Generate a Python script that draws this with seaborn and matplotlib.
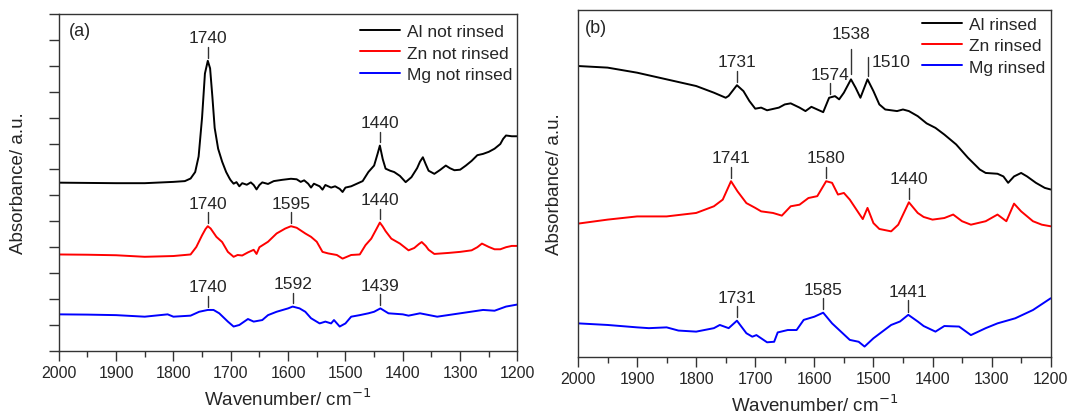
import numpy as np
import pandas as pd
import seaborn as sns
import matplotlib.pyplot as plt
from matplotlib.ticker import MultipleLocator, NullFormatter

# ---- panel (a): not rinsed ----
al_nr_wn = [2000, 1950, 1900, 1850, 1820, 1800, 1780, 1770, 1762, 1756, 1750, 1745, 1740, 1736, 1732,
            1728, 1722, 1715, 1708, 1702, 1700, 1695, 1690, 1685, 1680, 1672, 1665, 1660, 1655, 1650,
            1645, 1635, 1625, 1610, 1595, 1585, 1578, 1572, 1565, 1560, 1555, 1545, 1540, 1535, 1525,
            1518, 1510, 1505, 1500, 1490, 1480, 1470, 1460, 1450, 1444, 1440, 1435, 1430, 1422, 1415,
            1405, 1395, 1385, 1375, 1370, 1365, 1360, 1355, 1345, 1335, 1325, 1318, 1310, 1300, 1290,
            1280, 1270, 1260, 1250, 1240, 1230, 1225, 1220, 1210, 1200]
al_nr_ab = [6.49, 6.48, 6.47, 6.47, 6.50, 6.52, 6.55, 6.65, 6.90, 7.50, 9.00, 10.70, 11.19, 10.90, 9.80,
            8.60, 7.80, 7.30, 6.90, 6.65, 6.58, 6.45, 6.51, 6.35, 6.47, 6.41, 6.50, 6.40, 6.23, 6.40,
            6.50, 6.44, 6.55, 6.60, 6.64, 6.62, 6.52, 6.58, 6.45, 6.30, 6.45, 6.35, 6.22, 6.40, 6.30,
            6.35, 6.25, 6.13, 6.30, 6.35, 6.45, 6.55, 6.90, 7.15, 7.60, 7.92, 7.40, 7.03, 6.95, 6.90,
            6.75, 6.51, 6.70, 7.05, 7.30, 7.47, 7.20, 6.95, 6.83, 6.98, 7.15, 7.05, 6.97, 6.99, 7.15,
            7.33, 7.55, 7.60, 7.68, 7.80, 7.98, 8.18, 8.31, 8.28, 8.28]

zn_nr_wn = [2000, 1950, 1900, 1850, 1800, 1770, 1760, 1750, 1744, 1740, 1735, 1725, 1715, 1705, 1695,
            1688, 1680, 1670, 1660, 1655, 1650, 1635, 1620, 1605, 1595, 1585, 1570, 1560, 1550, 1540,
            1530, 1515, 1505, 1490, 1475, 1465, 1455, 1446, 1440, 1435, 1430, 1420, 1405, 1390, 1380,
            1372, 1367, 1360, 1355, 1345, 1320, 1300, 1280, 1270, 1262, 1250, 1240, 1230, 1220, 1210,
            1200]
zn_nr_ab = [3.72, 3.71, 3.69, 3.63, 3.66, 3.72, 4.01, 4.46, 4.70, 4.81, 4.72, 4.40, 4.20, 3.82, 3.63,
            3.70, 3.68, 3.80, 3.90, 3.74, 4.00, 4.21, 4.53, 4.72, 4.81, 4.75, 4.53, 4.40, 4.21, 3.82,
            3.76, 3.70, 3.56, 3.70, 3.72, 4.08, 4.33, 4.70, 4.95, 4.80, 4.62, 4.33, 4.14, 3.88, 3.97,
            4.12, 4.20, 4.05, 3.90, 3.74, 3.78, 3.82, 3.88, 4.00, 4.14, 4.01, 3.92, 3.92, 4.00, 4.05,
            4.05]

mg_nr_wn = [2000, 1950, 1900, 1850, 1810, 1800, 1770, 1755, 1740, 1730, 1720, 1705, 1695, 1685, 1670,
            1660, 1645, 1635, 1620, 1600, 1592, 1580, 1570, 1560, 1545, 1535, 1525, 1520, 1510, 1500,
            1490, 1475, 1460, 1450, 1439, 1425, 1400, 1390, 1370, 1340, 1300, 1260, 1240, 1220, 1200]
mg_nr_ab = [1.41, 1.40, 1.38, 1.32, 1.41, 1.32, 1.36, 1.51, 1.58, 1.58, 1.45, 1.13, 0.94, 1.00, 1.23,
            1.13, 1.19, 1.38, 1.51, 1.64, 1.71, 1.64, 1.51, 1.26, 1.06, 1.13, 1.06, 1.19, 0.94, 1.06,
            1.32, 1.38, 1.45, 1.51, 1.64, 1.45, 1.41, 1.36, 1.45, 1.32, 1.45, 1.58, 1.55, 1.71, 1.79]

# ---- panel (b): rinsed ----
al_r_wn = [2000, 1950, 1900, 1850, 1800, 1770, 1750, 1745, 1731, 1720, 1710, 1700, 1690, 1680, 1660,
           1650, 1640, 1625, 1615, 1605, 1595, 1585, 1575, 1565, 1558, 1550, 1538, 1530, 1522, 1510,
           1500, 1490, 1480, 1460, 1450, 1440, 1425, 1410, 1395, 1380, 1360, 1340, 1320, 1310, 1290,
           1280, 1272, 1262, 1250, 1240, 1225, 1210, 1200]
al_r_ab = [10.90, 10.84, 10.65, 10.40, 10.15, 9.90, 9.71, 9.78, 10.18, 9.96, 9.59, 9.30, 9.34, 9.24, 9.34,
           9.46, 9.50, 9.34, 9.21, 9.37, 9.27, 9.17, 9.71, 9.77, 9.65, 9.90, 10.40, 10.08, 9.71, 10.40,
           9.96, 9.46, 9.27, 9.21, 9.27, 9.21, 9.02, 8.75, 8.58, 8.33, 7.96, 7.46, 7.02, 6.89, 6.86,
           6.76, 6.52, 6.76, 6.89, 6.76, 6.52, 6.33, 6.27]

zn_r_wn = [2000, 1950, 1900, 1850, 1800, 1770, 1755, 1741, 1730, 1715, 1700, 1690, 1670, 1655, 1640,
           1625, 1610, 1595, 1580, 1570, 1560, 1550, 1540, 1525, 1518, 1510, 1500, 1490, 1470, 1458,
           1440, 1425, 1415, 1400, 1380, 1365, 1350, 1335, 1310, 1290, 1275, 1262, 1250, 1230, 1215,
           1200]
zn_r_ab = [4.99, 5.14, 5.26, 5.26, 5.39, 5.64, 5.89, 6.58, 6.20, 5.76, 5.58, 5.45, 5.39, 5.29, 5.64,
           5.70, 5.95, 6.02, 6.58, 6.52, 6.08, 6.14, 5.89, 5.39, 5.16, 5.58, 5.01, 4.79, 4.70, 4.95,
           5.79, 5.39, 5.24, 5.14, 5.20, 5.33, 5.08, 4.95, 5.08, 5.33, 5.08, 5.74, 5.45, 5.08, 4.95,
           4.89]

mg_r_wn = [2000, 1950, 1900, 1880, 1850, 1830, 1800, 1770, 1760, 1745, 1731, 1715, 1705, 1698, 1680,
           1668, 1662, 1645, 1630, 1618, 1600, 1585, 1570, 1555, 1540, 1525, 1515, 1500, 1485, 1470,
           1455, 1441, 1425, 1415, 1395, 1380, 1355, 1335, 1310, 1290, 1260, 1230, 1200]
mg_r_ab = [1.25, 1.19, 1.10, 1.07, 1.10, 0.98, 0.94, 1.07, 1.19, 1.07, 1.35, 0.88, 0.75, 0.81, 0.54,
           0.56, 0.91, 1.00, 1.00, 1.38, 1.50, 1.65, 1.25, 0.94, 0.63, 0.56, 0.38, 0.69, 0.94, 1.19,
           1.32, 1.57, 1.32, 1.15, 0.94, 1.15, 1.13, 0.81, 1.07, 1.25, 1.44, 1.75, 2.19]

labels_a = ["Al not rinsed", "Zn not rinsed", "Mg not rinsed"]
labels_b = ["Al rinsed", "Zn rinsed", "Mg rinsed"]
colors = ["black", "red", "blue"]

series_a = [(al_nr_wn, al_nr_ab), (zn_nr_wn, zn_nr_ab), (mg_nr_wn, mg_nr_ab)]
series_b = [(al_r_wn, al_r_ab), (zn_r_wn, zn_r_ab), (mg_r_wn, mg_r_ab)]

# peak labels: (series index, wavenumber)
peaks_a = [(0, 1740), (0, 1440), (1, 1740), (1, 1595), (1, 1440), (2, 1740), (2, 1592), (2, 1439)]
peaks_b = [(0, 1731), (0, 1574), (1, 1741), (1, 1580), (1, 1440), (2, 1731), (2, 1585), (2, 1441)]

PEAK_FS = 12.5


def long_df(series, labels):
    frames = []
    for (wn, ab), lab in zip(series, labels):
        frames.append(pd.DataFrame({"wn": wn, "ab": ab, "sample": lab}))
    return pd.concat(frames, ignore_index=True)


def peak_height(series, i, wn):
    x, y = series[i]
    return np.interp(wn, x[::-1], y[::-1])


def mark(ax, series, i, wn, length=0.42, gap=0.12):
    y0 = peak_height(series, i, wn) + gap
    ax.plot([wn, wn], [y0, y0 + length], color="#333333", lw=1.0)
    ax.text(wn, y0 + length + 0.06, str(wn), ha="center", va="bottom", fontsize=PEAK_FS)


sns.set_style("ticks")
plt.rcParams["font.family"] = ["Liberation Sans", "DejaVu Sans"]

fig = plt.figure(figsize=(10.67, 4.14), dpi=100)
ax1 = fig.add_axes([0.055, 0.150, 0.430, 0.814])
ax2 = fig.add_axes([0.5417, 0.136, 0.443, 0.8374])

for ax, series, labels, tag, tx, ly in [(ax1, series_a, labels_a, "(a)", 0.022, 0.985),
                                        (ax2, series_b, labels_b, "(b)", 0.015, 0.995)]:
    df = long_df(series, labels)
    sns.lineplot(data=df, x="wn", y="ab", hue="sample", palette=dict(zip(labels, colors)),
                 estimator=None, sort=False, lw=1.4, ax=ax)
    ax.set_xlim(2000, 1200)
    ax.set_ylim(0, 13)
    ax.xaxis.set_major_locator(MultipleLocator(100))
    ax.xaxis.set_minor_locator(MultipleLocator(50))
    ax.tick_params(axis="x", which="major", direction="out", length=7, width=1, labelsize=11.5,
                   color="#333333")
    ax.tick_params(axis="x", which="minor", direction="out", length=4, width=1, color="#333333")
    ax.set_xlabel("Wavenumber/ cm$^{-1}$", fontsize=13.5, labelpad=5)
    ax.set_ylabel("Absorbance/ a.u.", fontsize=13.5)
    for s in ax.spines.values():
        s.set_visible(True)
        s.set_linewidth(1.0)
        s.set_color("#333333")
    ax.text(tx, 0.95, tag, transform=ax.transAxes, ha="left", va="center", fontsize=13)
    leg = ax.legend(loc="upper right", bbox_to_anchor=(1.0, ly), frameon=False, fontsize=12.5,
                    handlelength=2.3, borderaxespad=0.0, borderpad=0.3, labelspacing=0.35,
                    handletextpad=0.4)
    for h in leg.get_lines():
        h.set_linewidth(1.4)

# left panel keeps unlabeled y ticks, right panel has none
ax1.yaxis.set_major_locator(MultipleLocator(1))
ax1.yaxis.set_major_formatter(NullFormatter())
ax1.tick_params(axis="y", direction="out", length=7, width=1, color="#333333")
ax2.set_yticks([])
ax1.yaxis.set_label_coords(-0.07, 0.5)
ax2.yaxis.set_label_coords(-0.032, 0.5)

for i, wn in peaks_a:
    mark(ax1, series_a, i, wn)
for i, wn in peaks_b:
    mark(ax2, series_b, i, wn)

# crowded pair on the Al rinsed trace
y1538 = peak_height(series_b, 0, 1538) + 0.2
ax2.plot([1538, 1538], [y1538, y1538 + 0.92], color="#333333", lw=1.0)
ax2.text(1538, y1538 + 1.25, "1538", ha="center", va="bottom", fontsize=PEAK_FS)
y1510 = peak_height(series_b, 0, 1510) + 0.12
ax2.plot([1510, 1510], [y1510, y1510 + 0.7], color="#333333", lw=1.0)
ax2.text(1503, y1510 + 0.55, "1510", ha="left", va="center", fontsize=PEAK_FS)

fig.savefig("out.png", dpi=100)
